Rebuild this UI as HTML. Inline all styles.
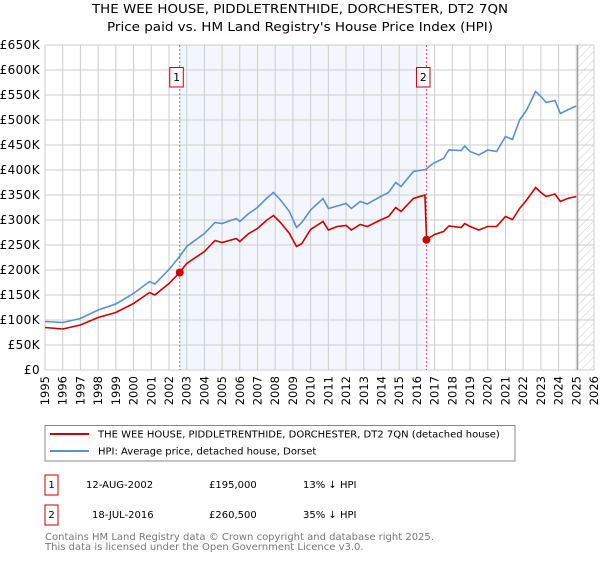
<!DOCTYPE html>
<html><head><meta charset="utf-8"><style>
body{margin:0;background:#fff;font-family:"DejaVu Sans","Liberation Sans",sans-serif;}
svg text{font-family:"DejaVu Sans","Liberation Sans",sans-serif;}
</style></head><body>
<svg id="c" width="600" height="560" xmlns="http://www.w3.org/2000/svg">
<defs><pattern id="hatch" width="6" height="6" patternUnits="userSpaceOnUse" patternTransform="rotate(45)"><line x1="0" y1="0" x2="0" y2="6" stroke="#ccc" stroke-width="1"/></pattern></defs>
<text x="92" y="13" textLength="416" lengthAdjust="spacingAndGlyphs" font-size="12" fill="#000">THE WEE HOUSE, PIDDLETRENTHIDE, DORCHESTER, DT2 7QN</text>
<text x="107" y="31" textLength="386" lengthAdjust="spacingAndGlyphs" font-size="12" fill="#000">Price paid vs. HM Land Registry's House Price Index (HPI)</text>
<g id="plot"></g>
<rect x="45" y="425.5" width="470" height="35.5" fill="#fff" stroke="#888"/>
<line x1="50" y1="434" x2="89" y2="434" stroke="#cc0000" stroke-width="2"/>
<text x="98" y="437.5" font-size="10">THE WEE HOUSE, PIDDLETRENTHIDE, DORCHESTER, DT2 7QN (detached house)</text>
<line x1="50" y1="451" x2="89" y2="451" stroke="#5b8fd4" stroke-width="2"/>
<text x="98" y="454.5" font-size="10">HPI: Average price, detached house, Dorset</text>
<g>
<rect x="45" y="475" width="13" height="20" fill="#fff" stroke="#cc0000"/>
<text x="51.5" y="488" text-anchor="middle" font-size="10">1</text>
<text x="86" y="488" font-size="10">12-AUG-2002</text>
<text x="209" y="488" font-size="10">£195,000</text>
<text x="303" y="488" font-size="10">13% ↓ HPI</text></g>
<g>
<rect x="45" y="505" width="13" height="20" fill="#fff" stroke="#cc0000"/>
<text x="51.5" y="518" text-anchor="middle" font-size="10">2</text>
<text x="92" y="518" font-size="10">18-JUL-2016</text>
<text x="209" y="518" font-size="10">£260,500</text>
<text x="303" y="518" font-size="10">35% ↓ HPI</text></g>
<text x="45" y="540" font-size="10" fill="#777">Contains HM Land Registry data © Crown copyright and database right 2025.</text>
<text x="45" y="550" font-size="10" fill="#777">This data is licensed under the Open Government Licence v3.0.</text>
</svg>
<script>
const yTicks=[0,50,100,150,200,250,300,350,400,450,500,550,600,650];
const yTickLabels=["£0","£50K","£100K","£150K","£200K","£250K","£300K","£350K","£400K","£450K","£500K","£550K","£600K","£650K"];
const years=[1995,1996,1997,1998,1999,2000,2001,2002,2003,2004,2005,2006,2007,2008,2009,2010,2011,2012,2013,2014,2015,2016,2017,2018,2019,2020,2021,2022,2023,2024,2025,2026];
const hpiT=[1995,1996,1997,1998,1999,2000,2000.9,2001.2,2002,2002.6,2003,2004,2004.6,2005,2005.8,2006,2006.5,2007,2007.5,2007.9,2008.3,2008.8,2009.2,2009.5,2010,2010.7,2011,2011.5,2012,2012.3,2012.8,2013.2,2014,2014.4,2014.8,2015.1,2015.8,2016.5,2016.9,2017.5,2017.8,2018.5,2018.7,2019,2019.5,2020,2020.5,2021,2021.4,2021.8,2022.2,2022.7,2023,2023.3,2023.8,2024.1,2024.5,2025];
const hpiV=[97,95,103,120,132,153,177,172,201,227,247,273,295,293,303,297,313,325,343,355,340,317,285,295,320,343,323,328,333,323,337,332,348,355,375,367,397,401,413,423,440,439,448,437,430,440,437,467,461,500,520,557,547,535,539,513,520,528];
const propT=[1995,1996,1997,1998,1999,2000,2000.9,2001.2,2002,2002.6,2003,2004,2004.6,2005,2005.8,2006,2006.5,2007,2007.5,2007.9,2008.3,2008.8,2009.2,2009.5,2010,2010.7,2011,2011.5,2012,2012.3,2012.8,2013.2,2014,2014.4,2014.8,2015.1,2015.8,2016.45,2016.55,2017,2017.5,2017.8,2018.5,2018.7,2019,2019.5,2020,2020.5,2021,2021.4,2021.8,2022.2,2022.7,2023,2023.3,2023.8,2024.1,2024.5,2025];
const propV=[85,82,90,105,115,133,155,150,173,195,213,237,259,255,263,257,273,283,299,309,295,273,247,253,281,297,280,287,289,280,291,287,301,307,325,317,343,350,261,271,277,288,285,293,287,280,287,287,307,301,323,340,365,355,347,352,337,343,347];
const saleT=[2002.61,2016.54];
const saleV=[195,260.5];
const saleLabels=["1","2"];
const L=45,R=594,T=45,B=370,X0=1995,X1=2026,YMAX=650,DATA_END=2025.08;
const x=t=>L+(t-X0)/(X1-X0)*(R-L);
const y=v=>B-v/YMAX*(B-T);
const NS="http://www.w3.org/2000/svg";
const g=document.getElementById('plot');
function mk(tag,attrs,parent){const e=document.createElementNS(NS,tag);for(const k in attrs)e.setAttribute(k,attrs[k]);(parent||g).appendChild(e);return e;}
let e;
e=mk('rect',{x:x(saleT[0]),y:T,width:x(saleT[1])-x(saleT[0]),height:B-T,fill:'#eef3fc',opacity:0.7});


e=mk('rect',{x:x(DATA_END),y:T,width:R-x(DATA_END),height:B-T,fill:'url(#hatch)'});


years.forEach(yr=>{
 e=mk('line',{x1:x(yr),x2:x(yr),y1:T,y2:B,stroke:'#ccc','stroke-width':1});
 
 
 e=mk('text',{transform:`translate(${x(yr)+4},${B+6}) rotate(-90)`,'text-anchor':'end','font-size':11.5,fill:'#000'});
 e.textContent=yr;
 
 
});
yTicks.forEach((v,i)=>{
 e=mk('line',{x1:L,x2:R,y1:y(v),y2:y(v),stroke:'#ccc','stroke-width':1});
 
 
 e=mk('text',{x:L-5,y:y(v)+4,'text-anchor':'end','font-size':12,'letter-spacing':0.4,fill:'#000'});
 e.textContent=yTickLabels[i];
 
 
});
e=mk('line',{x1:x(DATA_END),x2:x(DATA_END),y1:T,y2:B,stroke:'#888','stroke-width':1});


saleT.forEach((t,i)=>{
 e=mk('line',{x1:x(t),x2:x(t),y1:T,y2:B,stroke:'#e05050','stroke-width':1,'stroke-dasharray':'2,2'});
 
 
 e=mk('rect',{x:x(t)-10,y:67.5,width:13.5,height:19.5,fill:'#fff',stroke:'#cc0000'});
 
 
 e=mk('text',{x:x(t)-3.2,y:81,'text-anchor':'middle','font-size':11});
 e.textContent=saleLabels[i];
 
 
});
const pts=(ts,vs)=>ts.map((t,i)=>x(t).toFixed(1)+','+y(vs[i]).toFixed(1)).join(' ');
e=mk('polyline',{points:pts(hpiT,hpiV),fill:'none',stroke:'#5b8fd4','stroke-width':1.6});


e=mk('polyline',{points:pts(propT,propV),fill:'none',stroke:'#cc0000','stroke-width':1.6});


saleT.forEach((t,i)=>{
 e=mk('circle',{cx:x(t),cy:y(saleV[i]),r:4,fill:'#cc0000'});
 
 
});
</script>
</body></html>
